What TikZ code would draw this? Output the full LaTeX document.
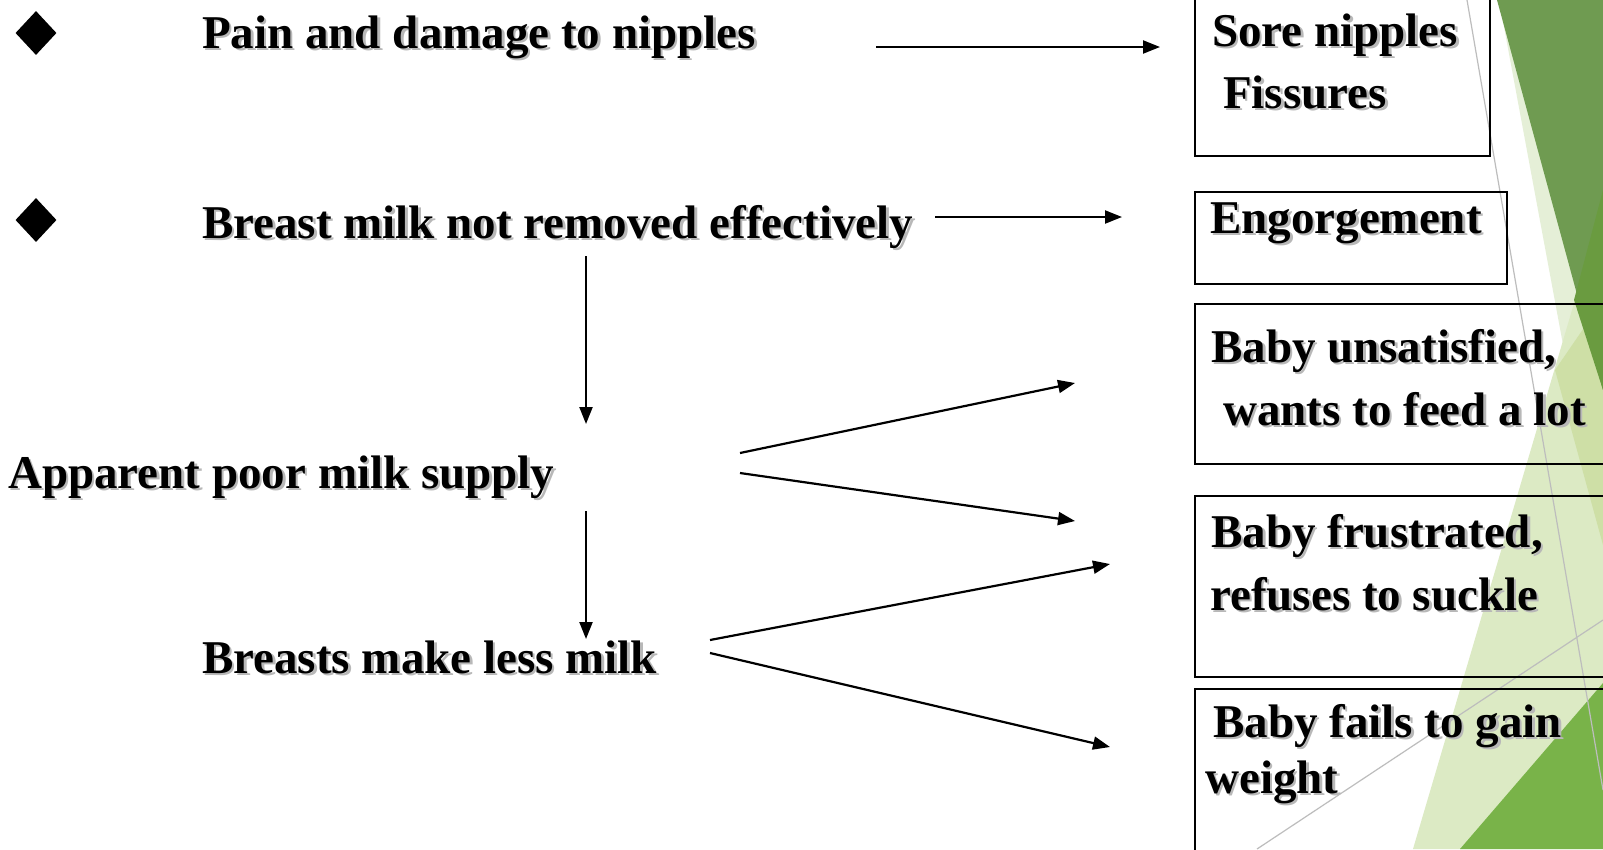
\documentclass[tikz,border=0pt]{standalone}
\usepackage{fontspec}
\setmainfont{Liberation Serif}
\usetikzlibrary{arrows.meta,shapes.geometric}
\definecolor{gdark}{HTML}{6F9B51}
\definecolor{gdarkb}{HTML}{6A9B40}
\definecolor{gbot}{HTML}{79B349}
\definecolor{gpale}{HTML}{E5EFD7}
\definecolor{glight}{HTML}{DCEAC4}
\definecolor{gmid}{HTML}{CEDFA6}
\definecolor{gline}{HTML}{BDBDBD}
\newcommand\shd[1]{\leavevmode\rlap{\kern2.5pt\raisebox{-2.5pt}{\color{black!28}#1}}#1}
\tikzset{
  txt/.style={anchor=base west, inner sep=0pt, font=\fontsize{47}{56}\selectfont\bfseries},
  bx/.style={draw, line width=2pt, anchor=north west, inner sep=0pt},
  arr/.style={line width=2.2pt, -{Triangle[length=17pt,width=13pt]}},
  bullet/.style={diamond, fill=black, inner sep=0pt, minimum width=41pt, minimum height=44pt, aspect=0.93},
}
\begin{document}
\begin{tikzpicture}[x=1pt,y=-1pt]
\useasboundingbox (0,0) rectangle (1603,849);
\fill[white] (0,0) rectangle (1603,849);
% background facets
\fill[gpale] (1499,0) -- (1603,0) -- (1603,560) -- cycle;
\fill[glight] (1603,205) -- (1603,849) -- (1413,849) -- cycle;
\fill[gmid] (1555,370) -- (1603,300) -- (1603,545) -- cycle;
\fill[gdark] (1497,0) -- (1603,0) -- (1603,390) -- cycle;
\fill[gdarkb] (1603,190) -- (1603,390) -- (1574,300) -- cycle;
\fill[gbot] (1603,683) -- (1603,849) -- (1460,849) -- cycle;
\draw[gline, line width=1.2pt] (1467,0) -- (1603,790);
\draw[gline, line width=1.2pt] (1257,849) -- (1603,620);
% boxes
\node[bx, minimum width=295pt, minimum height=160pt] (b1) at (1194,-5) {};
\node[bx, minimum width=312pt, minimum height=92pt] (b2) at (1194,191) {};
\node[bx, minimum width=430pt, minimum height=160pt] (b3) at (1194,303) {};
\node[bx, minimum width=430pt, minimum height=181pt] (b4) at (1194,495) {};
\node[bx, minimum width=430pt, minimum height=190pt] (b5) at (1194,688) {};
% box texts
\node[txt] (t1a) at (1212,46) {\shd{Sore nipples}};
\node[txt] (t1b) at (1223,108) {\shd{Fissures}};
\node[txt] (t2) at (1210,233) {\shd{Engorgement}};
\node[txt] (t3a) at (1211,362) {\shd{Baby unsatisfied,}};
\node[txt] (t3b) at (1223,425) {\shd{wants to feed a lot}};
\node[txt] (t4a) at (1211,547) {\shd{Baby frustrated,}};
\node[txt] (t4b) at (1210,610) {\shd{refuses to suckle}};
\node[txt] (t5a) at (1213,737) {\shd{Baby fails to gain}};
\node[txt] (t5b) at (1205,793) {\shd{weight}};
% bullets
\node[bullet] (d1) at (36,33) {};
\node[bullet] (d2) at (36,220) {};
% left texts
\node[txt] (pain) at (202,48) {\shd{Pain and damage to nipples}};
\node[txt] (milk) at (202,238) {\shd{Breast milk not removed effectively}};
\node[txt] (poor) at (8,488) {\shd{Apparent poor milk supply}};
\node[txt] (less) at (202,673) {\shd{Breasts make less milk}};
% arrow end points
\coordinate (a1s) at (876,47);   \coordinate (a1e) at (1160,47);
\coordinate (a2s) at (935,217);  \coordinate (a2e) at (1122,217);
\coordinate (v1s) at (586,256);  \coordinate (v1e) at (586,424);
\coordinate (a3s) at (740,453);  \coordinate (a3e) at (1075,383);
\coordinate (a4s) at (740,473);  \coordinate (a4e) at (1075,521);
\coordinate (v2s) at (586,511);  \coordinate (v2e) at (586,639);
\coordinate (a5s) at (710,640);  \coordinate (a5e) at (1110,564);
\coordinate (a6s) at (710,653);  \coordinate (a6e) at (1110,747);
\draw[arr] (a1s) -- (a1e);
\draw[arr] (a2s) -- (a2e);
\draw[arr] (v1s) -- (v1e);
\draw[arr] (a3s) -- (a3e);
\draw[arr] (a4s) -- (a4e);
\draw[arr] (v2s) -- (v2e);
\draw[arr] (a5s) -- (a5e);
\draw[arr] (a6s) -- (a6e);
\end{tikzpicture}
\end{document}
